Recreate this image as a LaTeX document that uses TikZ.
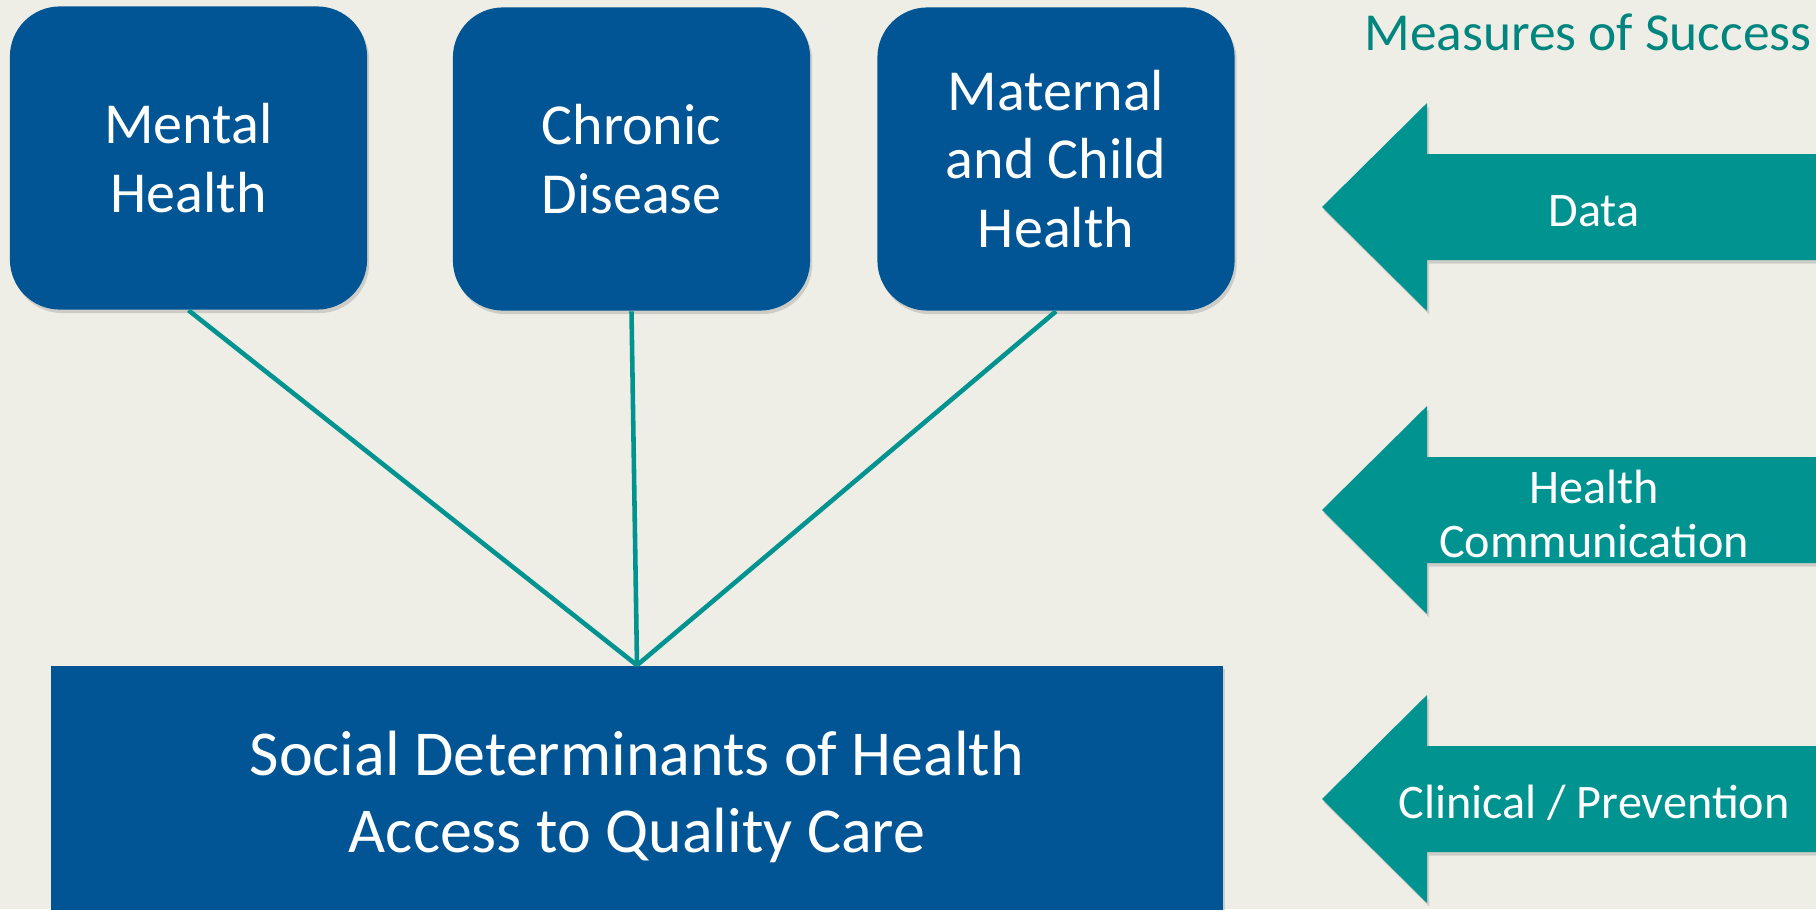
\documentclass[tikz,border=0pt]{standalone}
\usepackage{fontspec}
\setmainfont{Carlito}
\usetikzlibrary{shadows}

\definecolor{bg}{HTML}{EFEEE6}
\definecolor{boxblue}{HTML}{015595}
\definecolor{arrowteal}{HTML}{00938F}
\definecolor{titleteal}{HTML}{00857F}

\tikzset{
  softshadow/.style={drop shadow={opacity=0.3, shadow xshift=0.6pt, shadow yshift=-1pt}},
  topic/.style={fill=boxblue, text=white, rounded corners=0.5cm,
    minimum width=3.57cm, minimum height=3.03cm, align=center,
    font=\fontsize{16.5}{19.6}\selectfont, softshadow},
  base/.style={fill=boxblue, text=white, minimum width=11.72cm,
    minimum height=2.62cm, align=center,
    font=\fontsize{18.2}{21.9}\selectfont, softshadow},
  measure/.style={text=white, align=center, font=\fontsize{13.7}{15.6}\selectfont},
  link/.style={draw=arrowteal, line width=1.3pt}
}

\begin{document}
\begin{tikzpicture}[x=0.01cm, y=-0.01cm]
  \useasboundingbox (0,0) rectangle (1816,909);
  \fill [bg] (0,0) rectangle (1816,909);

  % three focus areas
  \node [topic] (mh) at (188.5,158) {Mental\\Health};
  \node [topic] (cd) at (631.5,159) {Chronic\\Disease};
  \node [topic] (mch) at (1056,159) {Maternal\\and Child\\Health};

  % common base, runs off the bottom edge
  \node [base] (sd) at (637,797) {Social Determinants of Health\\Access to Quality Care};

  \draw [link] (mh.south) -- (sd.north);
  \draw [link] (cd.south) -- (sd.north);
  \draw [link] (mch.south) -- (sd.north);

  % measures of success
  \node [text=titleteal, anchor=base, font=\fontsize{15.2}{17}\selectfont]
    (title) at (1588,51) {Measures of Success};
  \foreach \y/\name/\txt in {207/data/Data, 510/comm/{Health\\Communication},
      799/clin/{Clinical / Prevention}} {
    \fill [arrowteal, softshadow] (1322,\y) -- (1427,\y-104) -- (1427,\y-53)
      -- (1816,\y-53) -- (1816,\y+53) -- (1427,\y+53) -- (1427,\y+104) -- cycle;
    \node [measure] (\name) at (1594,\y+4) {\txt};
  }
\end{tikzpicture}
\end{document}
